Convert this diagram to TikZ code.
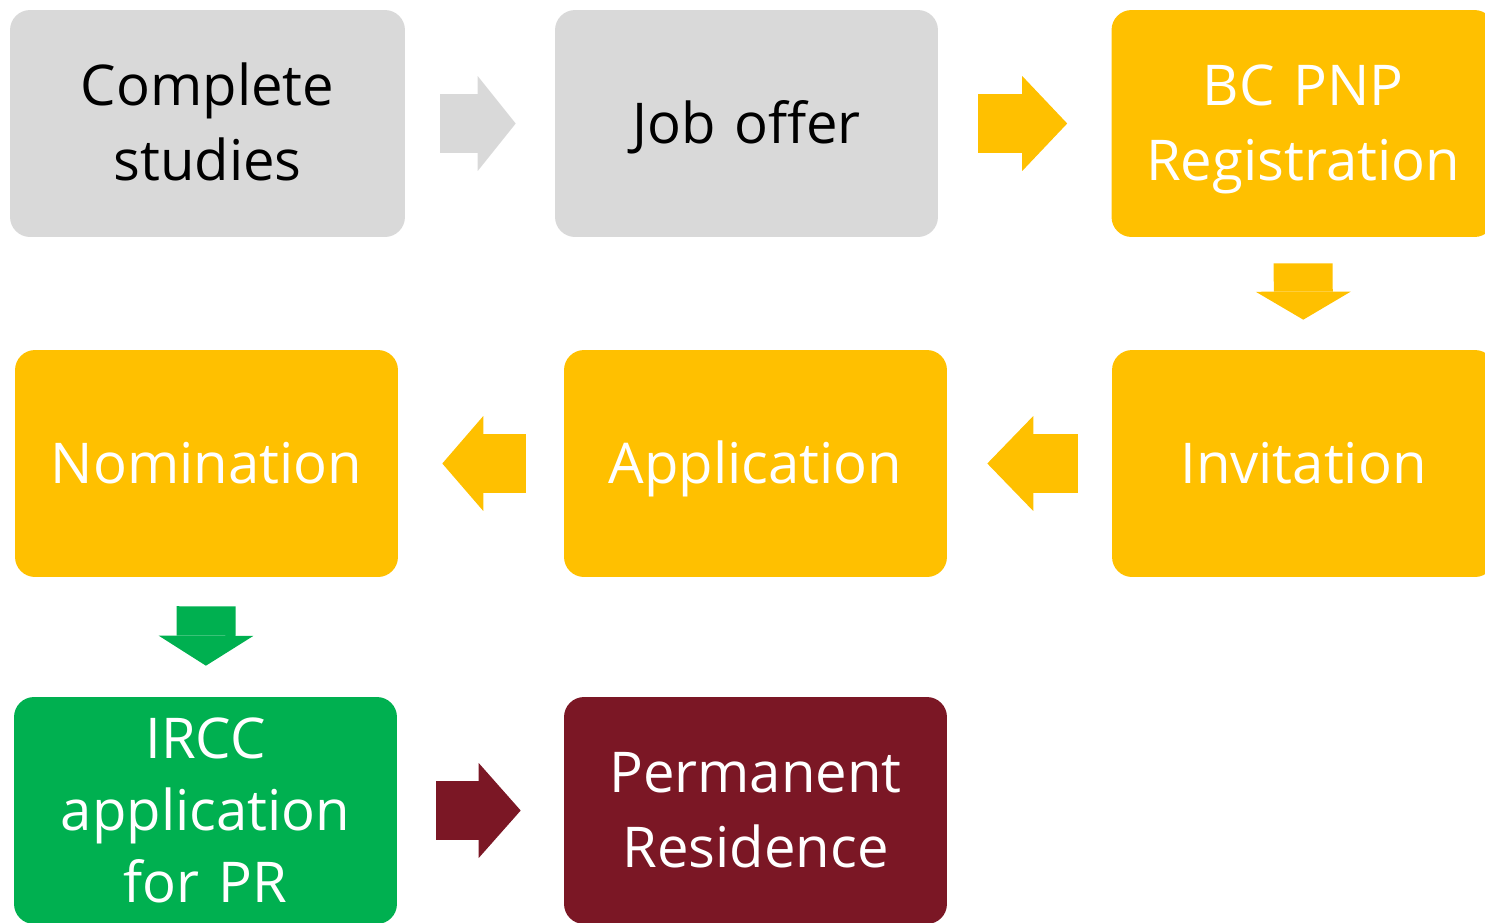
\documentclass[tikz,border=0pt]{standalone}
\usepackage{fontspec}
\setmainfont{Open Sans}
\usetikzlibrary{arrows.meta}

\definecolor{boxgrey}{HTML}{D9D9D9}
\definecolor{boxyellow}{HTML}{FFC000}
\definecolor{boxgreen}{HTML}{00B050}
\definecolor{boxmaroon}{HTML}{7B1725}

% keeps the capitals centred in the boxes
\newcommand{\capstrut}{\rule[-0.3em]{0pt}{1.3em}}

\begin{document}
\begin{tikzpicture}[x=0.02cm,y=-0.02cm,
    box/.style={rectangle, rounded corners=0.4cm, minimum width=7.66cm,
      minimum height=4.54cm, inner sep=0pt, text width=7.4cm, align=center,
      font=\fontsize{32}{41}\selectfont,
      execute at begin node=\capstrut, execute at end node=\capstrut},
    flow/.style={line width=1.18cm,
      -{Triangle[length=#1, width=1.9cm, line width=0pt]}}]
  \useasboundingbox (0,0) rectangle (1485,923);
  \clip (0,0) rectangle (1485,923);

  % first row
  \node[box, fill=boxgrey, minimum width=7.9cm] (studies) at (207.5,123.5) {Complete\\studies};
  \node[box, fill=boxgrey] (offer) at (746.5,123.5) {Job offer};
  \node[box, fill=boxyellow, text=white] (registration) at (1303,123.5) {BC PNP\\Registration};

  % second row
  \node[box, fill=boxyellow, text=white] (invitation) at (1303.5,463.5) {Invitation};
  \node[box, fill=boxyellow, text=white] (application) at (755.5,463.5) {Application};
  \node[box, fill=boxyellow, text=white] (nomination) at (206.5,463.5) {Nomination};

  % third row
  \node[box, fill=boxgreen, text=white] (ircc) at (205.5,810.5) {IRCC\\application\\for PR};
  \node[box, fill=boxmaroon, text=white] (residence) at (755.5,810.5) {Permanent\\Residence};

  \draw[flow=0.76cm, boxgrey, shorten <=0.7cm, shorten >=0.78cm] (studies) -- (offer);
  \draw[flow=0.9cm, boxyellow, shorten <=0.8cm, shorten >=0.88cm] (offer) -- (registration);
  \draw[flow=0.56cm, boxyellow, shorten <=0.52cm, shorten >=0.6cm] (registration) -- (invitation);
  \draw[flow=0.92cm, boxyellow, shorten <=0.68cm, shorten >=0.8cm] (invitation) -- (application);
  \draw[flow=0.82cm, boxyellow, shorten <=0.76cm, shorten >=0.88cm] (application) -- (nomination);
  \draw[flow=0.6cm, boxgreen, shorten <=0.58cm, shorten >=0.62cm] (nomination) -- (ircc);
  \draw[flow=0.84cm, boxmaroon, shorten <=0.78cm, shorten >=0.86cm] (ircc) -- (residence);
\end{tikzpicture}
\end{document}
